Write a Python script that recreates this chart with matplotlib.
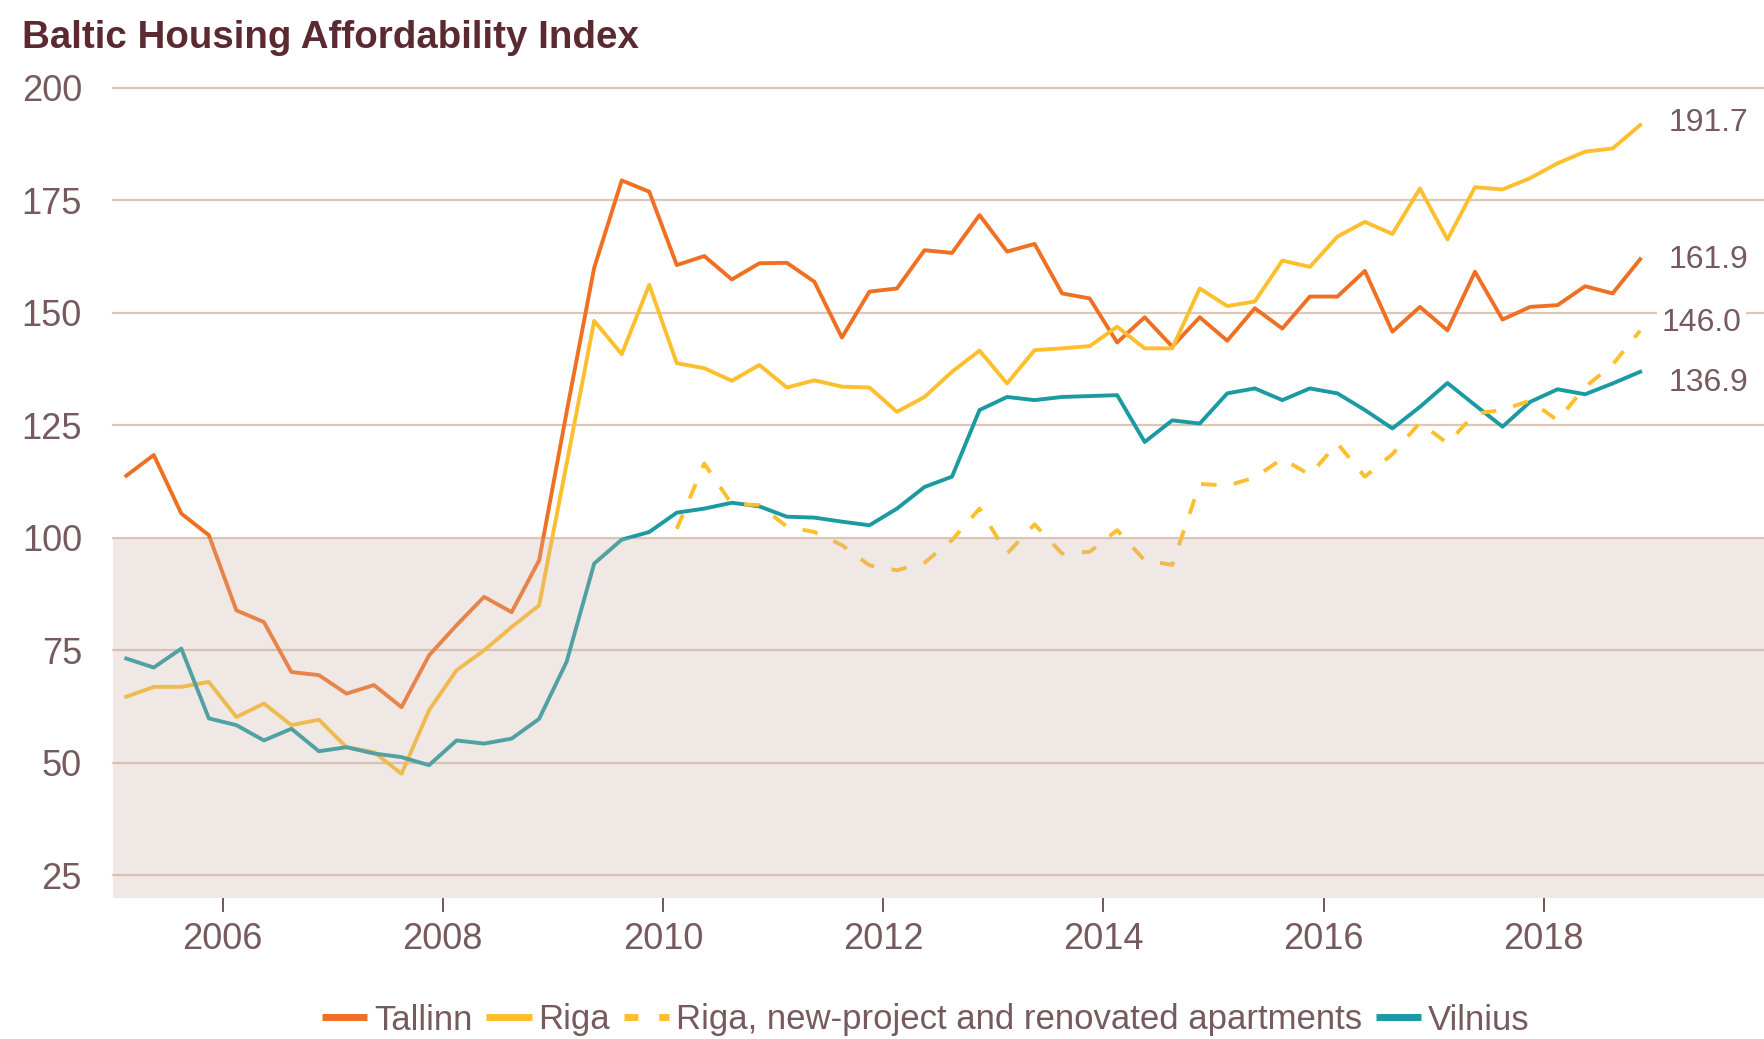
import numpy as np
import pandas as pd
import matplotlib
matplotlib.use("Agg")
import matplotlib.pyplot as plt

# Quarterly index values, 2005Q1 - 2018Q4
quarters = pd.period_range("2005Q1", "2018Q4", freq="Q")

tallinn = [113.8, 118.4, 105.4, 100.6, 83.9, 81.3, 70.2, 69.5, 65.4, 67.3, 62.4, 73.9,
           80.6, 86.9, 83.5, 95.0, 128.0, 160.0, 179.4, 176.9, 160.6, 162.6, 157.4, 161.0,
           161.1, 156.9, 144.5, 154.7, 155.4, 163.9, 163.3, 171.7, 163.6, 165.3, 154.3, 153.2,
           143.4, 149.0, 142.5, 149.0, 143.8, 151.0, 146.5, 153.6, 153.6, 159.3, 145.8, 151.3,
           146.1, 159.1, 148.5, 151.3, 151.7, 155.9, 154.3, 161.9]

riga = [64.7, 66.9, 66.9, 68.0, 60.2, 63.2, 58.4, 59.6, 53.5, 52.4, 47.6, 61.7,
        70.6, 75.0, 80.2, 85.0, 116.5, 148.2, 140.8, 156.2, 138.8, 137.7, 134.9, 138.4,
        133.4, 135.0, 133.6, 133.4, 128.0, 131.3, 136.9, 141.6, 134.3, 141.7, 142.1, 142.6,
        146.9, 142.1, 142.1, 155.4, 151.5, 152.5, 161.6, 160.2, 166.9, 170.2, 167.5, 177.6,
        166.3, 177.9, 177.4, 179.9, 183.2, 185.8, 186.5, 191.7]

# new-project series starts in 2010Q1
riga_new = [np.nan] * 20 + [
    102.0, 116.5, 107.5, 107.3, 102.5, 101.3, 98.4, 93.9, 92.8, 94.5, 99.5, 106.5,
    96.5, 103.0, 96.5, 96.9, 101.7, 95.0, 94.0, 112.0, 111.6, 113.4, 117.6, 114.0,
    121.0, 113.6, 118.6, 125.6, 121.0, 127.6, 128.4, 130.5, 126.1, 133.5, 138.5, 146.0]

vilnius = [73.2, 71.2, 75.4, 59.9, 58.4, 55.0, 57.6, 52.6, 53.5, 52.1, 51.3, 49.5,
           55.0, 54.3, 55.4, 59.8, 72.5, 94.3, 99.6, 101.3, 105.6, 106.5, 107.8, 107.0,
           104.7, 104.5, 103.6, 102.8, 106.5, 111.3, 113.6, 128.4, 131.3, 130.6, 131.3, 131.5,
           131.7, 121.3, 126.1, 125.4, 132.1, 133.2, 130.6, 133.2, 132.1, 128.4, 124.3, 129.1,
           134.4, 129.5, 124.7, 130.2, 133.0, 131.9, 134.3, 136.9]

year_ticks = [2006, 2008, 2010, 2012, 2014, 2016, 2018]
y_ticks = [25, 50, 75, 100, 125, 150, 175, 200]

# quarter midpoints as decimal years
x = np.array([q.year + (q.quarter - 0.5) / 4 for q in quarters])

c_tallinn = "#F07023"
c_riga = "#FDBF2D"
c_vilnius = "#1B9AA1"
c_text = "#765a5d"
c_title = "#5A2A30"
c_grid = "#DCC7B8"

plt.rcParams["font.family"] = ["Liberation Sans", "DejaVu Sans"]

W, H = 1764, 1039
fig = plt.figure(figsize=(W / 100, H / 100), dpi=100)
ax = fig.add_axes([112.5 / W, (H - 898) / H, (W - 112.5) / W, (898 - 87.7) / H])
ax.set_xlim(2005, 2020)
ax.set_ylim(20, 200)

for v in y_ticks:
    ax.axhline(v, color=c_grid, lw=1.6, zorder=1, clip_on=False)

lw = 2.8
ax.plot(x, tallinn, color=c_tallinn, lw=lw, label="Tallinn", zorder=3)
ax.plot(x, riga, color=c_riga, lw=lw, label="Riga", zorder=3)
ax.plot(x, vilnius, color=c_vilnius, lw=lw, label="Vilnius", zorder=3)
ax.plot(x, riga_new, color=c_riga, lw=lw, dashes=(4, 4.5),
        label="Riga, new-project and renovated apartments", zorder=4)

# shaded zone below 100, laid over the lines
ax.axhspan(20, 100, color="#CFB4A6", alpha=0.3, lw=0, zorder=5)

# end-of-series value labels
last_vals = [riga[-1], tallinn[-1], riga_new[-1], vilnius[-1]]
label_y = [192.1, 161.7, 147.7, 134.4]
label_x = [2019.13, 2019.13, 2019.07, 2019.13]
for v, ly, lx in zip(last_vals, label_y, label_x):
    t = ax.text(lx, ly, f"{v:.1f}", fontsize=23, color=c_text, va="center", ha="left",
                zorder=6)
    if v == riga_new[-1]:
        t.set_bbox(dict(facecolor="white", edgecolor="none", pad=3))

for s in ax.spines.values():
    s.set_visible(False)

ax.set_xticks(year_ticks)
ax.set_yticks(y_ticks)
ax.tick_params(axis="x", length=10, width=1.2, color="#5B3A3E", pad=7,
               labelsize=26, labelcolor=c_text)
ax.tick_params(axis="y", length=0, pad=22, labelsize=26, labelcolor=c_text)

fig.text(22 / W, 1 - 48 / H, "Baltic Housing Affordability Index", fontsize=27.7,
         fontweight="bold", color=c_title, ha="left", va="baseline")

handles, labels = ax.get_legend_handles_labels()
order = [0, 1, 3, 2]
leg = fig.legend([handles[i] for i in order], [labels[i] for i in order],
                 loc="center", bbox_to_anchor=(926 / W, 1 - 1020 / H), ncol=4,
                 frameon=False, fontsize=25, handlelength=1.3, handletextpad=0.2,
                 columnspacing=0.4, labelcolor=c_text)
for ln in leg.get_lines():
    ln.set_linewidth(5)
    ln.set_solid_capstyle("butt")
leg.get_lines()[2].set_dashes([2.0, 3.0])

fig.savefig("out.png", dpi=100)
